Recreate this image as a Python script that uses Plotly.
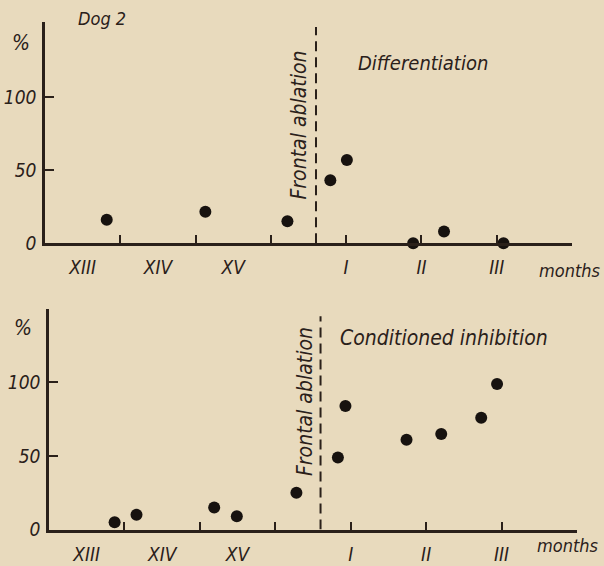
import plotly.graph_objects as go

# ---- data (months relative to month I after ablation; % values) ----
diff_x = [-3.18, -1.87, -0.78, -0.21, 0.01, 0.89, 1.30, 2.09]
diff_y = [16, 21.5, 15, 43, 57, 0, 8, 0]

inh_x = [-3.13, -2.84, -1.81, -1.51, -0.72, -0.17, -0.07, 0.74, 1.20, 1.73, 1.94]
inh_y = [5, 10, 15, 9, 25, 49, 84, 61, 65, 76, 99]

ablation_x = -0.4
month_ticks = [-3, -2, -1, 0, 1, 2]
label_pos = [-3.5, -2.5, -1.5, 0, 1, 2]
label_text = ["XIII", "XIV", "XV", "I", "II", "III"]
y_ticks = [0, 50, 100]
y_text = ["0", "50", "100"]

INK = "#2a201a"
BG = "#e8dabd"
FONT = "DejaVu Sans Condensed, DejaVu Sans, sans-serif"

W, H = 604, 566

def px_x(p):
    return p / W

def px_y(p):
    return 1 - p / H

fig = go.Figure()
fig.add_trace(go.Scatter(x=diff_x, y=diff_y, mode="markers", xaxis="x", yaxis="y",
                         marker=dict(size=12, color="#17120f"), cliponaxis=False,
                         showlegend=False))
fig.add_trace(go.Scatter(x=inh_x, y=inh_y, mode="markers", xaxis="x2", yaxis="y2",
                         marker=dict(size=12, color="#17120f"), cliponaxis=False,
                         showlegend=False))

def xax(domain, anchor, standoff):
    return dict(domain=domain, anchor=anchor, range=[-4, 3.0],
                showline=True, linecolor=INK, linewidth=2.5,
                showgrid=False, zeroline=False,
                tickmode="array", tickvals=label_pos, ticktext=label_text,
                ticks="", ticklabelstandoff=standoff,
                tickfont=dict(family=FONT, size=19, color=INK, style="italic"),
                minor=dict(tickmode="array", tickvals=month_ticks, ticks="inside",
                           ticklen=8, tickwidth=2, tickcolor=INK, showgrid=False))

def yax(domain, anchor, top):
    return dict(domain=domain, anchor=anchor, range=[0, top],
                showline=True, linecolor=INK, linewidth=2.5,
                showgrid=False, zeroline=False,
                tickmode="array", tickvals=y_ticks, ticktext=y_text,
                ticks="inside", ticklen=9, tickwidth=2, tickcolor=INK,
                ticklabelstandoff=2,
                tickfont=dict(family=FONT, size=19, color=INK, style="italic"))

fig.update_layout(
    width=W, height=H, margin=dict(l=0, r=0, t=0, b=0),
    paper_bgcolor=BG, plot_bgcolor=BG,
    xaxis=xax([px_x(45), px_x(572)], "y", 5),
    yaxis=yax([px_y(248), px_y(22)], "x", 151.7),
    xaxis2=xax([px_x(49), px_x(577)], "y2", 6),
    yaxis2=yax([px_y(540), px_y(315)], "x2", 150),
)

# dashed ablation lines
fig.add_shape(type="line", xref="x", yref="y", x0=ablation_x, x1=ablation_x, y0=0, y1=148,
              line=dict(color=INK, width=2, dash="10px,6px"))
fig.add_shape(type="line", xref="x2", yref="y2", x0=ablation_x, x1=ablation_x, y0=0, y1=145,
              line=dict(color=INK, width=2, dash="10px,6px"))

def note(text, x, y, size=16, angle=0, xanchor="left", ref=("paper", "paper")):
    fig.add_annotation(text=text, x=x, y=y, xref=ref[0], yref=ref[1], showarrow=False,
                       xanchor=xanchor, yanchor="middle", textangle=angle,
                       font=dict(family=FONT, size=size, color=INK, style="italic"))

note("Dog 2", px_x(76), px_y(19), 18)
note("%", px_x(10), px_y(44), 21)
note("%", px_x(12), px_y(334), 21)
note("Differentiation", px_x(356), px_y(64), 20)
note("Conditioned inhibition", px_x(338), px_y(345), 21)
note("Frontal ablation", px_x(299), px_y(128), 21, angle=-90, xanchor="center")
note("Frontal ablation", px_x(305), px_y(410), 21, angle=-90, xanchor="center")
note("months", px_x(537), px_y(276), 18)
note("months", px_x(535), px_y(556), 18)

fig.write_html("out.html", config={"displayModeBar": False},
               post_script="document.body.style.margin='0';")
